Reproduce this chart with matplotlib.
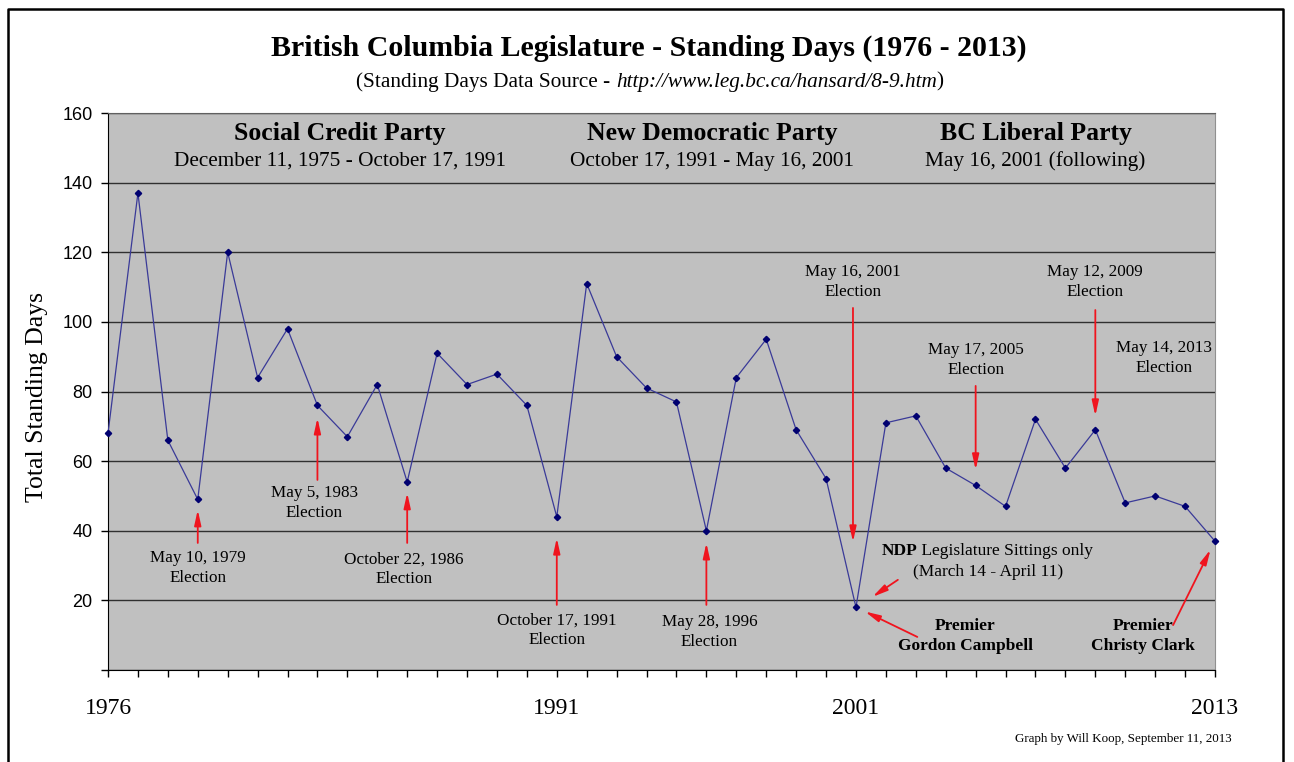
import matplotlib
matplotlib.use('Agg')
import matplotlib.pyplot as plt
from matplotlib.lines import Line2D
from matplotlib.offsetbox import TextArea, HPacker, AnnotationBbox

# data
years = list(range(1976, 2014))
standing_days = [68, 137, 66, 49, 120, 84, 98, 76, 67, 82,
                 54, 91, 82, 85, 76, 44, 111, 90, 81, 77,
                 40, 84, 95, 69, 55, 18, 71, 73, 58, 53,
                 47, 72, 58, 69, 48, 50, 47, 37]
label_years = [1976, 1991, 2001, 2013]
y_ticks = [0, 20, 40, 60, 80, 100, 120, 140, 160]

parties = ['Social Credit Party', 'New Democratic Party', 'BC Liberal Party']
party_dates = ['December 11, 1975 - October 17, 1991',
               'October 17, 1991 - May 16, 2001',
               'May 16, 2001 (following)']
party_x = [1983.75, 1996.2, 2007.0]

# election notes: text, text position, arrow tail, arrow head
elections = [
    ('May 10, 1979\nElection', (1979.0, 29.3), (1979.0, 36.5), (1979.0, 46.0)),
    ('May 5, 1983\nElection', (1982.9, 48.0), (1983.0, 54.6), (1983.0, 72.4)),
    ('October 22, 1986\nElection', (1985.9, 29.0), (1986.0, 36.5), (1986.0, 50.9)),
    ('October 17, 1991\nElection', (1991.0, 11.5), (1991.0, 18.7), (1991.0, 37.9)),
    ('May 28, 1996\nElection', (1996.1, 10.9), (1996.0, 18.7), (1996.0, 36.5)),
    ('May 16, 2001\nElection', (2000.9, 111.5), (2000.9, 104.0), (2000.9, 36.8)),
    ('May 17, 2005\nElection', (2005.0, 89.1), (2005.0, 81.6), (2005.0, 57.5)),
    ('May 12, 2009\nElection', (2009.0, 111.5), (2009.0, 103.4), (2009.0, 73.0)),
    ('May 14, 2013\nElection', (2011.3, 89.6), None, None),
]
premiers = [
    ('Premier\nGordon Campbell', (2004.65, 9.8), (2003.05, 9.5), (2001.3, 16.8)),
    ('Premier\nChristy Clark', (2010.6, 9.8), (2011.6, 12.9), (2012.85, 34.6)),
]

serif = 'Liberation Serif'
arrow_red = '#f0141e'

fig = plt.figure(figsize=(12.94, 7.62), dpi=100)
ax = fig.add_axes([108 / 1294, 1 - 670 / 762, 1107 / 1294, 557 / 762])
ax.set_facecolor('#c0c0c0')

ax.plot(years, standing_days, color='#3a3a98', lw=0.9, marker='D', markersize=3.2,
        markerfacecolor='#000070', markeredgecolor='#000070', clip_on=False, zorder=3)

ax.set_xlim(1976, 2013)
ax.set_ylim(0, 160)
ax.set_yticks(y_ticks)
ax.set_yticklabels([str(v) if v > 0 else '' for v in y_ticks], fontsize=13,
                   family='Liberation Sans')
ax.set_xticks(years)
ax.set_xticklabels([str(y) if y in label_years else '' for y in years],
                   fontsize=17, family=serif)
ax.tick_params(axis='x', length=5, width=1, pad=15)
ax.tick_params(axis='y', length=5, width=1, pad=6)
ax.yaxis.grid(True, color='#303030', lw=1.0)
ax.set_axisbelow(True)
for side in ['left', 'bottom']:
    ax.spines[side].set_color('black')
ax.spines['top'].set_color('#606060')
ax.spines['right'].set_color('#909090')

ax.set_ylabel('Total Standing Days', fontsize=18.5, family=serif)
ax.yaxis.set_label_coords(-0.054, 0.49)

# party headers
for name, dates, px in zip(parties, party_dates, party_x):
    ax.text(px, 154, name, ha='center', va='center', fontsize=18.5,
            fontweight='bold', family=serif)
    ax.text(px, 146.2, dates, ha='center', va='center', fontsize=15.3, family=serif)

arrow_props = dict(arrowstyle='-|>,head_length=0.9,head_width=0.2', color=arrow_red,
                   lw=1.3, shrinkA=0, shrinkB=0)

for text, tpos, tail, head in elections:
    ax.text(tpos[0], tpos[1], text, ha='center', va='center', fontsize=12.3,
            family=serif, linespacing=1.3)
    if tail is not None:
        ax.annotate('', xy=head, xytext=tail, arrowprops=arrow_props)

for text, tpos, tail, head in premiers:
    ax.text(tpos[0], tpos[1], text, ha='center', va='center', fontsize=12.5,
            fontweight='bold', family=serif, linespacing=1.3)
    ax.annotate('', xy=head, xytext=tail, arrowprops=arrow_props)

# NDP note with mixed weights
ndp_line = HPacker(children=[
    TextArea('NDP', textprops=dict(fontsize=12.5, fontweight='bold', family=serif)),
    TextArea(' Legislature Sittings only', textprops=dict(fontsize=12.5, family=serif)),
], align='baseline', pad=0, sep=0)
ax.add_artist(AnnotationBbox(ndp_line, (2005.4, 34.2), xycoords='data', frameon=False,
                             box_alignment=(0.5, 0.5), pad=0))
ax.text(2005.4, 28.2, '(March 14 - April 11)', ha='center', va='center',
        fontsize=12.5, family=serif)
ax.annotate('', xy=(2001.55, 21.0), xytext=(2002.4, 25.9), arrowprops=arrow_props)

# titles
fig.text(0.5015, 1 - 48 / 762, 'British Columbia Legislature - Standing Days (1976 - 2013)',
         ha='center', va='center', fontsize=21.5, fontweight='bold', family=serif)
subtitle = HPacker(children=[
    TextArea('(Standing Days Data Source - ', textprops=dict(fontsize=15.3, family=serif)),
    TextArea('http://www.leg.bc.ca/hansard/8-9.htm',
             textprops=dict(fontsize=15.3, family=serif, style='italic')),
    TextArea(')', textprops=dict(fontsize=15.3, family=serif)),
], align='baseline', pad=0, sep=0)
fig.add_artist(AnnotationBbox(subtitle, (650 / 1294, 1 - 82 / 762), xycoords='figure fraction',
                              frameon=False, box_alignment=(0.5, 0.5), pad=0))

fig.text(1232 / 1294, 1 - 739 / 762, 'Graph by Will Koop, September 11, 2013',
         ha='right', va='center', fontsize=9.4, family=serif)

# outer frame
fx0, fx1, fy1 = 7.5 / 1294, 1283 / 1294, 1 - 9 / 762
fig.add_artist(Line2D([fx0, fx0, fx1, fx1], [0, fy1, fy1, 0], color='black', lw=1.8,
                      transform=fig.transFigure))

fig.savefig('out.png', dpi=100)
